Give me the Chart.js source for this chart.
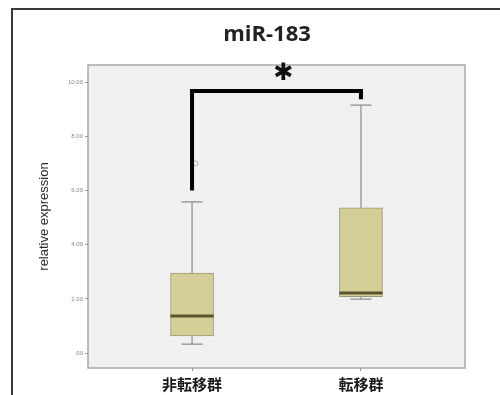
<!DOCTYPE html>
<html>
<head>
<meta charset="utf-8">
<script src="https://cdn.jsdelivr.net/npm/chart.js@4"></script>
<style>
  html, body { margin: 0; padding: 0; background: #fff; }
  #wrap { width: 500px; height: 395px; }
</style>
</head>
<body>
<div id="wrap"><canvas id="chart" width="500" height="395"></canvas></div>
<script>
// ---- data ----
const groups = ['非転移群', '転移群'];
const xPos = [1, 2];
const q1 = [0.63, 2.08];
const q3 = [2.95, 5.36];
const medians = [1.37, 2.22];
const whiskerLo = [0.33, 1.99];
const whiskerHi = [5.58, 9.15];
const outlierX = [1.02];
const outlierY = [7.0];
const yTicks = [0, 2, 4, 6, 8, 10];
// significance bracket: left foot, top, right foot
const bracketY = [6.0, 9.67, 9.37];
const starPos = { x: 1.54, y: 10.3 };

const CAP = 0.062;   // half width of whisker caps (x units)
const HALF = 0.128;  // half width of box (x units)

// whisker segments, split by null gaps
const whiskerData = [];
xPos.forEach((x, i) => {
    whiskerData.push({ x: x - CAP, y: whiskerLo[i] }, { x: x + CAP, y: whiskerLo[i] }, { x: x, y: null });
    whiskerData.push({ x: x, y: whiskerLo[i] }, { x: x, y: q1[i] }, { x: x, y: null });
    whiskerData.push({ x: x, y: q3[i] }, { x: x, y: whiskerHi[i] }, { x: x, y: null });
    whiskerData.push({ x: x - CAP, y: whiskerHi[i] }, { x: x + CAP, y: whiskerHi[i] }, { x: x, y: null });
});

const medianData = [];
xPos.forEach((x, i) => {
    medianData.push({ x: x - HALF, y: medians[i] }, { x: x + HALF, y: medians[i] }, { x: x, y: null });
});

const bracketData = [
    { x: xPos[0], y: bracketY[0] },
    { x: xPos[0], y: bracketY[1] },
    { x: xPos[1], y: bracketY[1] },
    { x: xPos[1], y: bracketY[2] }
];

const framePlugin = {
    id: 'frame',
    beforeDraw(chart) {
        const { ctx, chartArea: a } = chart;
        ctx.save();
        ctx.fillStyle = '#fff';
        ctx.fillRect(0, 0, chart.width, chart.height);
        // outer figure frame (cut off at right and bottom)
        ctx.strokeStyle = '#3a3a3a';
        ctx.lineWidth = 2;
        ctx.strokeRect(12, 9, 520, 420);
        // plot panel
        ctx.fillStyle = '#f0f0f0';
        ctx.fillRect(a.left, a.top, a.right - a.left, a.bottom - a.top);
        ctx.strokeStyle = '#a8a8a8';
        ctx.lineWidth = 1.5;
        ctx.strokeRect(a.left, a.top, a.right - a.left, a.bottom - a.top);
        ctx.restore();
    },
    afterDraw(chart) {
        const { ctx, scales: { x, y } } = chart;
        ctx.save();
        ctx.fillStyle = '#222';
        ctx.textAlign = 'center';
        ctx.textBaseline = 'middle';
        ctx.font = 'bold 22px "Open Sans", sans-serif';
        ctx.fillText('miR-183', 267, 35);
        ctx.fillStyle = '#111';
        ctx.font = '24px "DejaVu Sans", sans-serif';
        ctx.fillText('✱', x.getPixelForValue(starPos.x), y.getPixelForValue(starPos.y));
        ctx.restore();
    }
};

new Chart(document.getElementById('chart'), {
    type: 'bar',
    data: {
        datasets: [
            {
                type: 'bar',
                data: xPos.map((x, i) => ({ x: x, y: [q1[i], q3[i]] })),
                backgroundColor: '#d4cf96',
                borderColor: '#9b9878',
                borderWidth: 1,
                borderSkipped: false,
                barThickness: 43,
                order: 2
            },
            {
                type: 'line',
                data: whiskerData,
                borderColor: '#8c8c8c',
                borderWidth: 1.2,
                pointRadius: 0,
                spanGaps: false,
                order: 3
            },
            {
                type: 'line',
                data: medianData,
                borderColor: '#5a5430',
                borderWidth: 3,
                pointRadius: 0,
                spanGaps: false,
                order: 1
            },
            {
                type: 'line',
                data: outlierX.map((x, i) => ({ x: x, y: outlierY[i] })),
                showLine: false,
                pointRadius: 2.5,
                pointStyle: 'circle',
                pointBorderColor: '#b0b0b0',
                pointBackgroundColor: 'rgba(0,0,0,0)',
                pointBorderWidth: 1,
                order: 4
            },
            {
                type: 'line',
                data: bracketData,
                borderColor: '#000',
                borderWidth: 4,
                pointRadius: 0,
                borderCapStyle: 'butt',
                borderJoinStyle: 'miter',
                order: 0
            }
        ]
    },
    options: {
        responsive: false,
        animation: false,
        layout: { padding: { top: 65, left: 0, right: 35, bottom: 0 } },
        plugins: {
            legend: { display: false },
            tooltip: { enabled: false },
            title: { display: false }
        },
        scales: {
            x: {
                type: 'linear',
                offset: false,
                min: 0.384,
                max: 2.616,
                afterFit(s) { s.height = 27; },
                afterBuildTicks(s) { s.ticks = xPos.map(v => ({ value: v })); },
                grid: { drawOnChartArea: false, drawTicks: true, tickLength: 3, color: '#999', offset: false },
                border: { display: false },
                ticks: {
                    padding: 4,
                    color: '#1a1a1a',
                    font: { family: '"Noto Sans CJK JP", sans-serif', size: 15, weight: 'bold' },
                    callback: v => groups[xPos.indexOf(v)]
                }
            },
            y: {
                type: 'linear',
                min: -0.55,
                max: 10.63,
                afterFit(s) { s.width = 88; },
                afterBuildTicks(s) { s.ticks = yTicks.map(v => ({ value: v })); },
                grid: { drawOnChartArea: false, drawTicks: true, tickLength: 3, color: '#999' },
                border: { display: false },
                ticks: {
                    padding: 2,
                    color: '#888',
                    font: { family: '"Liberation Sans", sans-serif', size: 6 },
                    callback: v => v === 0 ? '.00' : v.toFixed(2)
                },
                title: {
                    display: true,
                    text: 'relative expression',
                    color: '#2a2a2a',
                    padding: { top: 37, bottom: 0 },
                    font: { family: '"Liberation Sans", sans-serif', size: 13 }
                }
            }
        }
    },
    plugins: [framePlugin]
});
</script>
</body>
</html>
